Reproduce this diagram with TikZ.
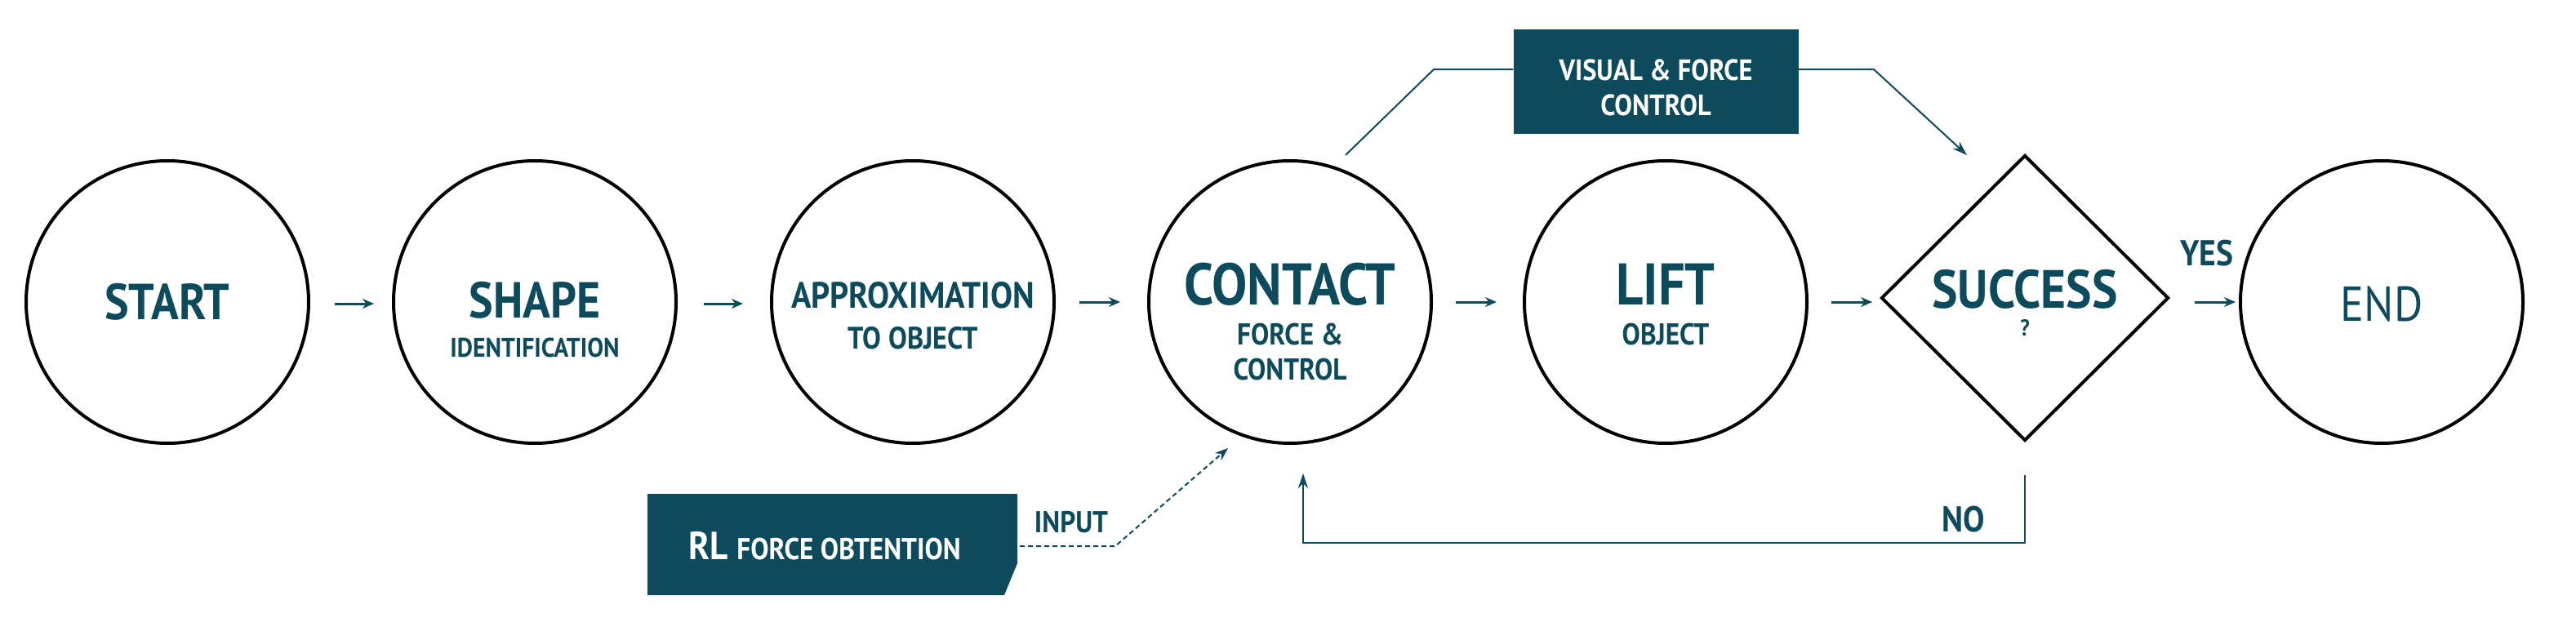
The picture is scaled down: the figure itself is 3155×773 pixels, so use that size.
\documentclass[tikz,border=0pt]{standalone}
\usepackage{fontspec}
\setmainfont{PT Sans}[FakeStretch=0.9]
\usetikzlibrary{shapes.geometric,arrows.meta}
\definecolor{teal}{HTML}{0D4A5C}
\begin{document}
\begin{tikzpicture}[x=1pt,y=-1pt,
  st/.style={circle,draw=black,line width=4pt,minimum size=346pt,inner sep=0pt},
  tx/.style={text=teal,font=\bfseries,inner sep=0pt},
  ar/.style={-{Stealth[length=14pt,width=12pt]},line width=3pt,draw=teal},
  ln/.style={line width=2pt,draw=teal},
  wt/.style={text=white,font=\bfseries,inner sep=0pt}]
\useasboundingbox (0,0) rectangle (3155,773);
\newcommand\fs[1]{\fontsize{#1}{#1}\selectfont}
\node[st] (start) at (205,370) {};
\node[tx] (startT) at (205,370) {\fs{62}START};
\node[st] (shape) at (655,370) {};
\node[tx] (shapeT) at (655,368) {\fs{62}SHAPE};
\node[tx] (shapeS) at (655,426) {\fs{33}IDENTIFICATION};
\node[st] (appr) at (1118,370) {};
\node[tx] (apprT) at (1118,362) {\fs{45}APPROXIMATION};
\node[tx] (apprS) at (1118,414) {\fs{38}TO OBJECT};
\node[st] (contact) at (1580,370) {};
\node[tx] (contT) at (1580,348) {\fs{72}CONTACT};
\node[tx] (contS1) at (1580,410) {\fs{37}FORCE \&};
\node[tx] (contS2) at (1580,453) {\fs{37}CONTROL};
\node[st] (lift) at (2040,370) {};
\node[tx] (liftT) at (2040,348) {\fs{72}LIFT};
\node[tx] (liftS) at (2040,410) {\fs{37}OBJECT};
\node[diamond,draw=black,line width=4pt,minimum width=352pt,minimum height=350pt,inner sep=0pt] (succ) at (2480,365) {};
\node[tx] (succT) at (2480,354) {\fs{66}SUCCESS};
\node[tx] (succS) at (2480,402) {\fs{28}?};
\node[st] (end) at (2917,370) {};
\node[tx,font=\normalfont] (endT) at (2917,372) {\fs{60}END};
\draw[ar] (410,372) -- (458,372);
\draw[ar] (862,372) -- (910,372);
\draw[ar] (1322,370) -- (1372,370);
\draw[ar] (1783,370) -- (1833,370);
\draw[ar] (2243,370) -- (2293,370);
\draw[ar] (2688,370) -- (2738,370);
\node[tx] (yes) at (2703,310) {\fs{44}YES};
% visual box
\node[fill=teal,minimum width=349pt,minimum height=127pt,inner sep=0pt] (vis) at (2028,100) {};
\node[wt] (visT1) at (2028,86) {\fs{36}VISUAL \& FORCE};
\node[wt] (visT2) at (2028,129) {\fs{36}CONTROL};
\coordinate (v1) at (1648,190);
\coordinate (v2) at (1756,85);
\coordinate (v3) at (2295,85);
\coordinate (v4) at (2409,190);
\draw[ln] (v1) -- (v2) -- (vis.west |- v2);
\draw[ln,-{Stealth[length=18pt,width=12pt]}] (vis.east |- v3) -- (v3) -- (v4);
% RL box
\fill[teal] (793,605) -- (1246,605) -- (1246,690) -- (1230,729) -- (793,729) -- cycle;
\node[wt] (rl) at (1010,669) {\fs{48}RL\ \fs{37}FORCE OBTENTION};
\coordinate (rlout) at (1249,669);
\coordinate (c1) at (1366,669);
\coordinate (c2) at (1504,549);
\draw[ln,dashed,dash pattern=on 6pt off 4pt,-{Stealth[length=16pt,width=12pt]}] (rlout) -- (c1) -- (c2);
\node[tx] (inp) at (1312,640) {\fs{37}INPUT};
% feedback
\coordinate (f1) at (2480,582);
\coordinate (f2) at (2480,665);
\coordinate (f3) at (1596,665);
\coordinate (f4) at (1596,580);
\draw[ln,-{Stealth[length=18pt,width=12pt]}] (f1) -- (f2) -- (f3) -- (f4);
\node[tx] (no) at (2405,636) {\fs{44}NO};
\end{tikzpicture}
\end{document}
